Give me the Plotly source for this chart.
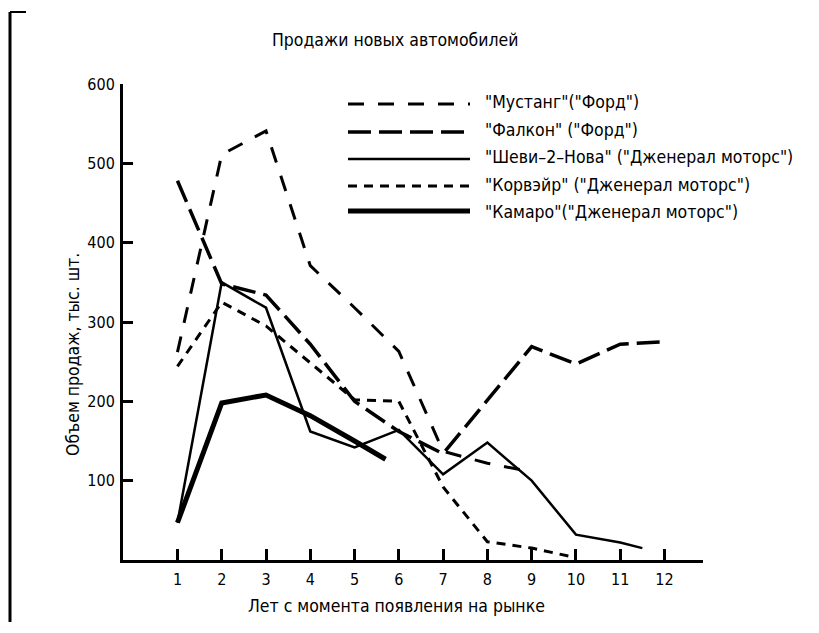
import plotly.graph_objects as go

# ---------------- data ----------------
title_text = "Продажи новых автомобилей"
x_title = "Лет с момента появления на рынке"
y_title = "Объем продаж, тыс. шт."

x_ticks = [1, 2, 3, 4, 5, 6, 7, 8, 9, 10, 11, 12]
y_ticks = [100, 200, 300, 400, 500, 600]

mustang_x = [1, 2, 3, 4, 5, 6, 7, 8, 9]
mustang_y = [262, 511, 541, 371, 318, 263, 137, 122, 111]

falcon_x = [1, 2, 3, 4, 5, 6, 7, 8, 9, 10, 11, 12]
falcon_y = [478, 348, 334, 272, 200, 162, 134, 202, 269, 247, 272, 275]

chevy_x = [1, 2, 3, 4, 5, 6, 7, 8, 9, 10, 11, 11.5]
chevy_y = [47, 350, 318, 162, 142, 164, 108, 148, 100, 32, 22, 15]

corvair_x = [1, 2, 3, 4, 5, 6, 7, 8, 9, 10]
corvair_y = [244, 325, 295, 248, 202, 200, 92, 23, 15, 3]

camaro_x = [1, 2, 3, 4, 5, 5.7]
camaro_y = [47, 198, 208, 182, 150, 127]

names = ['"Мустанг"("Форд")',
         '"Фалкон" ("Форд")',
         '"Шеви–2–Нова" ("Дженерал моторс")',
         '"Корвэйр" ("Дженерал моторс")',
         '"Камаро"("Дженерал моторс")']

# ---------------- styles ----------------
FONT = "DejaVu Sans Condensed, Liberation Sans Narrow, Arial Narrow, sans-serif"
styles = [
    dict(width=3, dash="16px,14px"),
    dict(width=3.5, dash="23px,8px"),
    dict(width=2.5, dash="solid"),
    dict(width=3, dash="9px,7px"),
    dict(width=5, dash="solid"),
]
series = [(mustang_x, mustang_y), (falcon_x, falcon_y), (chevy_x, chevy_y),
          (corvair_x, corvair_y), (camaro_x, camaro_y)]

fig = go.Figure()
for (xs, ys), nm, st in zip(series, names, styles):
    fig.add_trace(go.Scatter(x=xs, y=ys, mode="lines", name=nm,
                             line=dict(color="black", width=st["width"], dash=st["dash"]),
                             showlegend=False))

# page body has an 8px margin; target pixel positions are given in window coords
OFF = 8
W, H = 819 - OFF, 633 - OFF
L, R, T, B = 123 - OFF, 703 - OFF, 84 - OFF, 560 - OFF
def px(xp):
    return (xp - OFF - L) / (R - L)
def py(yp):
    return (B - (yp - OFF)) / (B - T)

x_lo, x_hi = -0.23, 12.87
TXT = 17.5

fig.update_layout(
    width=W, height=H,
    margin=dict(l=L, r=W - R, t=T, b=H - B, pad=0),
    paper_bgcolor="white", plot_bgcolor="white",
    font=dict(family=FONT, size=TXT, color="black"),
    showlegend=False,
)
fig.update_xaxes(range=[x_lo, x_hi], tickvals=x_ticks + [x_hi],
                 ticktext=[str(v) for v in x_ticks] + [""],
                 showgrid=False, zeroline=False, showline=True, linecolor="black",
                 linewidth=3, ticks="inside", ticklen=11, tickwidth=3, tickcolor="black",
                 tickfont=dict(size=16), ticklabelstandoff=3)
fig.update_yaxes(range=[0, 600], tickvals=y_ticks,
                 showgrid=False, zeroline=False, showline=True, linecolor="black",
                 linewidth=3, ticks="inside", ticklen=10, tickwidth=3, tickcolor="black",
                 tickfont=dict(size=16), ticklabelstandoff=2)

ann = []
ann.append(dict(text=title_text, x=px(395), y=py(40), xref="paper", yref="paper",
                showarrow=False, xanchor="center", yanchor="middle", font=dict(size=TXT)))
ann.append(dict(text=x_title, x=px(396), y=py(606), xref="paper", yref="paper",
                showarrow=False, xanchor="center", yanchor="middle", font=dict(size=TXT)))
ann.append(dict(text=y_title, x=px(73), y=py(355), xref="paper", yref="paper",
                showarrow=False, xanchor="center", yanchor="middle", textangle=-90,
                font=dict(size=TXT)))

shapes = []
row_y = [104, 132, 159, 186, 211]
text_y = [102, 130, 157, 185, 212]
for nm, st, ly, ty in zip(names, styles, row_y, text_y):
    shapes.append(dict(type="line", xref="paper", yref="paper",
                       x0=px(348), x1=px(470), y0=py(ly), y1=py(ly),
                       line=dict(color="black", width=st["width"], dash=st["dash"])))
    ann.append(dict(text=nm, x=px(483), y=py(ty), xref="paper", yref="paper",
                    showarrow=False, xanchor="left", yanchor="middle", font=dict(size=TXT)))

# scan frame remnants (left border)
shapes.append(dict(type="line", xref="paper", yref="paper", x0=px(10), x1=px(10),
                   y0=py(12), y1=py(622), line=dict(color="black", width=3)))
shapes.append(dict(type="line", xref="paper", yref="paper", x0=px(10), x1=px(26),
                   y0=py(12), y1=py(12), line=dict(color="black", width=2)))

fig.update_layout(annotations=ann, shapes=shapes)
fig.write_html("out.html")
